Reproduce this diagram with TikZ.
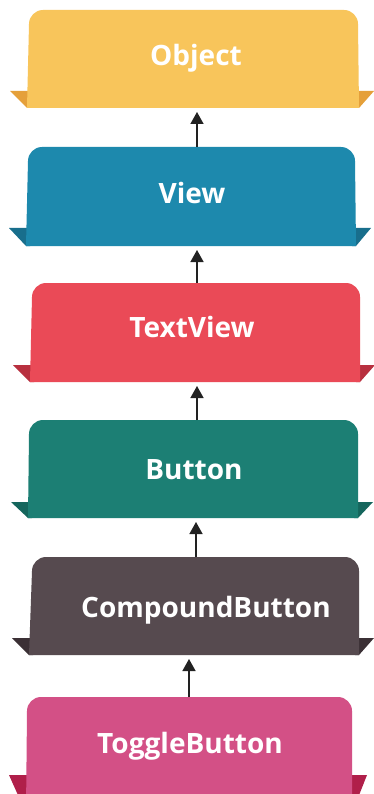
\documentclass[tikz,border=0pt]{standalone}
\usepackage{fontspec}
\setmainfont{Open Sans}
\usetikzlibrary{arrows.meta}
\definecolor{objC}{HTML}{F8C55B}\definecolor{objF}{HTML}{E5A03A}
\definecolor{viewC}{HTML}{1D89AD}\definecolor{viewF}{HTML}{186E8C}
\definecolor{tvC}{HTML}{EA4A57}\definecolor{tvF}{HTML}{B8303F}
\definecolor{btnC}{HTML}{1C7F74}\definecolor{btnF}{HTML}{15665D}
\definecolor{cbC}{HTML}{564A4F}\definecolor{cbF}{HTML}{3B3035}
\definecolor{tgC}{HTML}{D35086}\definecolor{tgF}{HTML}{B01F4A}
\definecolor{arrC}{HTML}{222222}
% #1 body colour, #2 flap colour, #3 xl top, #4 xl bottom, #5 xr top, #6 xr bottom, #7 y top, #8 y bottom, #9 flap y
\newcommand\tabshape[9]{%
  \fill[#2] (#4-17,#9) -- (#4+4,#9) -- (#4+4,#8) -- (#4,#8) -- cycle;
  \fill[#2] (#6+15,#9) -- (#6-4,#9) -- (#6-4,#8) -- (#6,#8) -- cycle;
  \fill[#1] (#4,#8) -- (#3,#7+14) .. controls (#3,#7+6.3) and (#3+6.3,#7) .. (#3+14,#7)
     -- (#5-14,#7) .. controls (#5-6.3,#7) and (#5,#7+6.3) .. (#5,#7+14) -- (#6,#8) -- cycle;
}
\tikzset{
  lbl/.style={text=white, font=\fontsize{28}{30}\selectfont\bfseries, anchor=base, inner sep=0pt},
  arr/.style={draw=arrC, line width=1.5pt, -{Triangle[width=13pt,length=12pt]}, shorten >=4pt}
}
\begin{document}
\begin{tikzpicture}[x=1pt,y=-1pt]
\useasboundingbox (0,0) rectangle (374,794);
\clip (0,0) rectangle (374,794);
\fill[white] (0,0) rectangle (374,794);
% boxes
\tabshape{objC}{objF}{29}{27}{358}{359}{10}{108}{91}
\tabshape{viewC}{viewF}{28}{26}{355}{356}{147}{246}{228}
\tabshape{tvC}{tvF}{32}{30}{360}{360}{283}{382}{365}
\tabshape{btnC}{btnF}{29}{28}{358}{358}{420}{518}{502}
\tabshape{cbC}{cbF}{32}{29}{359}{359}{557}{655}{638}
\tabshape{tgC}{tgF}{27}{26}{352}{352}{697}{813}{775}
% labels
\node[lbl] (object)   at (196,66)  {Object};
\node[lbl] (view)     at (192,204) {View};
\node[lbl] (textview) at (192,337) {TextView};
\node[lbl] (button)   at (194,479) {Button};
\node[lbl] (compound) at (206,617) {CompoundButton};
\node[lbl] (toggle)   at (190,753) {ToggleButton};
% box edges for connectors
\coordinate (objB) at (197,108);
\coordinate (viewT) at (197,147);
\coordinate (viewB) at (197,246);
\coordinate (tvT) at (197,283);
\coordinate (tvB) at (197,382);
\coordinate (btnT) at (197,420);
\coordinate (btnB) at (196,518);
\coordinate (cbT) at (196,557);
\coordinate (cbB) at (189,655);
\coordinate (tgT) at (189,697);
% connectors
\draw[arr] (viewT) -- (objB);
\draw[arr] (tvT) -- (viewB);
\draw[arr] (btnT) -- (tvB);
\draw[arr] (cbT) -- (btnB);
\draw[arr] (tgT) -- (cbB);
\end{tikzpicture}
\end{document}
